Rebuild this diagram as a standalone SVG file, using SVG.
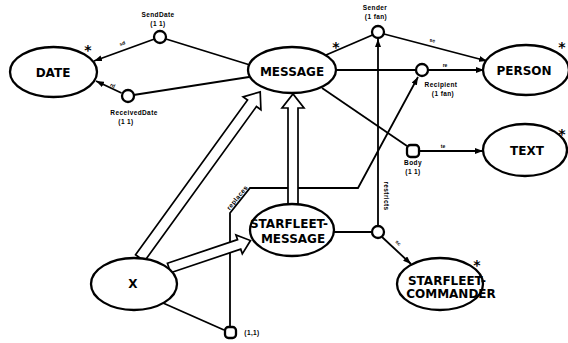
<svg xmlns="http://www.w3.org/2000/svg" width="568" height="343" viewBox="0 0 568 343">
<defs>
<marker id="ah" markerWidth="8" markerHeight="6" refX="8" refY="3" orient="auto" markerUnits="userSpaceOnUse"><path d="M0,0 L8,3 L0,6 Z" fill="#000"/></marker>
</defs>
<style>
.ent{fill:#fff;stroke:#000;stroke-width:2.3}
.rel{fill:#fff;stroke:#000;stroke-width:2.3}
.ln{fill:none;stroke:#000;stroke-width:1.8}
.hollow{fill:#fff;stroke:#000;stroke-width:1.7;stroke-linejoin:miter}
.big{font-family:"DejaVu Sans","Liberation Sans",sans-serif;font-weight:bold;font-size:12px;text-anchor:middle}
.sm{font-family:"Liberation Sans",Arial,sans-serif;font-weight:bold;font-size:6.5px;text-anchor:middle;letter-spacing:0.4px}
.tiny{font-family:"Liberation Sans",Arial,sans-serif;font-weight:bold;font-size:5px;text-anchor:middle}
.star{font-family:"DejaVu Sans","Liberation Sans",sans-serif;font-weight:bold;font-size:14px;text-anchor:middle}
</style>
<rect width="568" height="343" fill="#fff"/>

<g id="connectors">
  <line class="ln" x1="154.5" y1="39" x2="94" y2="61" marker-end="url(#ah)"/>
  <line class="ln" x1="166" y1="39" x2="250" y2="65"/>
  <line class="ln" x1="121.5" y1="93" x2="96" y2="81" marker-end="url(#ah)"/>
  <line class="ln" x1="133.5" y1="95" x2="249" y2="77"/>
  <line class="ln" x1="326" y1="55" x2="372.5" y2="35"/>
  <line class="ln" x1="384" y1="34" x2="487" y2="61" marker-end="url(#ah)"/>
  <line class="ln" x1="336" y1="70" x2="416" y2="70"/>
  <line class="ln" x1="428" y1="70" x2="484" y2="70" marker-end="url(#ah)"/>
  <line class="ln" x1="322" y1="88" x2="407" y2="146"/>
  <line class="ln" x1="420" y1="151" x2="483" y2="151" marker-end="url(#ah)"/>
  <line class="ln" x1="378" y1="226" x2="378" y2="39" marker-end="url(#ah)"/>
  <line class="ln" x1="334" y1="232" x2="372" y2="232"/>
  <line class="ln" x1="382" y1="237" x2="411" y2="264" marker-end="url(#ah)"/>
  <polyline class="ln" points="230,327 230,213 250,188 358,188 418,77" marker-end="url(#ah)"/>
  <line class="ln" x1="163" y1="303" x2="224" y2="330"/>
  <!-- generalisation arrows (hollow, double-lined) -->
  <path class="hollow" transform="translate(140,258) rotate(-54.1)" d="M0,-5.5 L191,-5.5 L191,-11 L205,0 L191,11 L191,5.5 L0,5.5 Z"/>
  <path class="hollow" transform="translate(293,204) rotate(-90)" d="M0,-5 L96,-5 L96,-11 L110,0 L96,11 L96,5 L0,5 Z"/>
  <path class="hollow" transform="translate(169,268) rotate(-18.6)" d="M0,-5 L74,-5 L74,-10 L86,0 L74,10 L74,5 L0,5 Z"/>
  <!-- role labels -->
  <text class="tiny" transform="translate(123,45) rotate(-20)">sd</text>
  <text class="tiny" transform="translate(112,87) rotate(25)">rd</text>
  <text class="tiny" transform="translate(432,42) rotate(15)">se</text>
  <text class="tiny" x="445" y="67">re</text>
  <text class="tiny" x="443" y="148">te</text>
  <text class="tiny" transform="translate(397,244) rotate(45)">sc</text>
  <text class="sm" transform="translate(384,196) rotate(90)">restricts</text>
  <text class="sm" transform="translate(239,199) rotate(-51)">replaces</text>
</g>

<g id="date">
  <ellipse class="ent" cx="53.5" cy="72" rx="43.5" ry="25"/>
  <text class="big" x="53" y="76.5">DATE</text>
  <text class="star" x="88" y="55">*</text>
</g>
<g id="message">
  <ellipse class="ent" cx="292" cy="70" rx="44" ry="23"/>
  <text class="big" x="292" y="76">MESSAGE</text>
  <text class="star" x="336" y="52">*</text>
</g>
<g id="person">
  <ellipse class="ent" cx="526" cy="70" rx="43" ry="25"/>
  <text class="big" x="524" y="74.5">PERSON</text>
  <text class="star" x="562" y="52">*</text>
</g>
<g id="text">
  <ellipse class="ent" cx="525" cy="150" rx="42" ry="26"/>
  <text class="big" x="527" y="154.5">TEXT</text>
  <text class="star" x="562" y="139">*</text>
</g>
<g id="starfleet-message">
  <ellipse class="ent" cx="292" cy="230" rx="42" ry="26"/>
  <text class="big" x="289" y="227.5">STARFLEET-</text>
  <text class="big" x="293" y="242.5">MESSAGE</text>
</g>
<g id="starfleet-commander">
  <ellipse class="ent" cx="440" cy="284" rx="43" ry="26"/>
  <text class="big" x="447" y="284.5">STARFLEET-</text>
  <text class="big" x="451" y="297.5">COMMANDER</text>
  <text class="star" x="477" y="270">*</text>
</g>
<g id="x">
  <ellipse class="ent" cx="134" cy="284" rx="43" ry="26"/>
  <text class="big" x="133" y="288">X</text>
</g>

<g id="senddate">
  <circle class="rel" cx="160" cy="37" r="6"/>
  <text class="sm" x="158" y="16.5">SendDate</text>
  <text class="sm" x="158" y="25.5">(1 1)</text>
</g>
<g id="receiveddate">
  <circle class="rel" cx="128" cy="96" r="6"/>
  <text class="sm" x="134" y="114.5">ReceivedDate</text>
  <text class="sm" x="126" y="124">(1 1)</text>
</g>
<g id="sender">
  <circle class="rel" cx="378" cy="32" r="6"/>
  <text class="sm" x="375" y="10">Sender</text>
  <text class="sm" x="376" y="19">(1 fan)</text>
</g>
<g id="recipient">
  <circle class="rel" cx="422" cy="70" r="6"/>
  <text class="sm" x="441" y="87">Recipient</text>
  <text class="sm" x="443" y="95.5">(1 fan)</text>
</g>
<g id="body">
  <rect class="rel" x="407" y="145" width="12" height="12" rx="3.5"/>
  <text class="sm" x="413" y="165">Body</text>
  <text class="sm" x="413" y="174">(1 1)</text>
</g>
<g id="restrict-link">
  <circle class="rel" cx="378" cy="232" r="6"/>
</g>
<g id="replace-link">
  <rect class="rel" x="225" y="327" width="11" height="11" rx="3.5"/>
  <text class="sm" x="252" y="335">(1,1)</text>
</g>
</svg>
